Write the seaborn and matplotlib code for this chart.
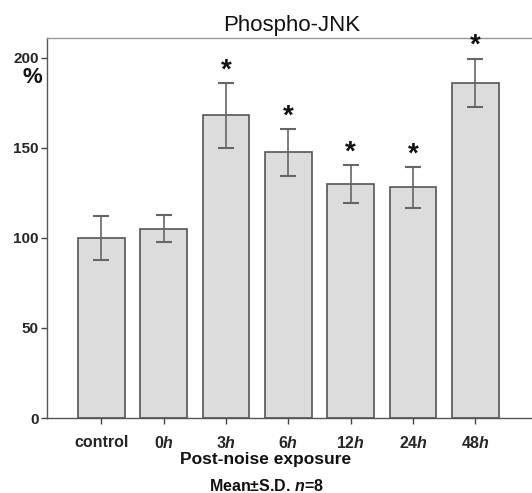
import matplotlib
matplotlib.use("Agg")
import matplotlib.pyplot as plt
import seaborn as sns
import pandas as pd

categories = ["control", "0h", "3h", "6h", "12h", "24h", "48h"]
tick_labels = ["control", "0$h$", "3$h$", "6$h$", "12$h$", "24$h$", "48$h$"]
means = [100, 105, 168, 147.5, 130, 128, 186]
sds = [12, 7.5, 18, 13, 10.5, 11.5, 13.5]
significant = [False, False, True, True, True, True, True]

sns.set_theme(style="white")
plt.rcParams["font.family"] = ["Liberation Sans", "DejaVu Sans"]
plt.rcParams["mathtext.fontset"] = "custom"
plt.rcParams["mathtext.rm"] = "Liberation Sans:bold"
plt.rcParams["mathtext.it"] = "Liberation Sans:italic:bold"

df = pd.DataFrame({"group": categories, "value": means})

fig = plt.figure(figsize=(5.32, 4.93), dpi=100)
ax = fig.add_axes([0.0883, 0.152, 0.92, 0.771])

sns.barplot(data=df, x="group", y="value", order=categories, color="#dcdcdc",
            edgecolor="#555555", linewidth=1.2, width=0.75, errorbar=None,
            saturation=1, ax=ax)
ax.errorbar(range(len(categories)), means, yerr=sds, fmt="none",
            ecolor="#666666", elinewidth=1.2, capsize=6, capthick=1.5)

for i, (m, s, sig) in enumerate(zip(means, sds, significant)):
    if sig:
        ax.text(i, m + s + 7, "*", ha="center", va="center", fontsize=20,
                fontweight="bold", color="#111111", clip_on=False)

ax.set_xlim(-0.87, 6.98)
ax.set_ylim(0, 211)
ax.set_yticks([0, 50, 100, 150, 200])
ax.set_yticklabels(["0", "50", "100", "150", "200"], fontsize=11,
                   fontweight="bold")
ax.set_xticks(range(len(categories)))
ax.set_xticklabels(tick_labels, fontsize=11.5, fontweight="bold")
ax.tick_params(axis="both", which="both", length=4, width=1, color="#444444",
               direction="out", bottom=True, left=True, pad=2)
ax.tick_params(axis="x", pad=8)
ax.set_xlabel("")
ax.set_ylabel("")

for side in ["left", "bottom", "top"]:
    ax.spines[side].set_visible(True)
    ax.spines[side].set_color("#555555")
    ax.spines[side].set_linewidth(1.0)
ax.spines["top"].set_color("#999999")
ax.spines["right"].set_visible(False)

ax.set_title("Phospho-JNK", fontsize=16, pad=5, color="#111111")
fig.text(0.06, 0.843, "%", fontsize=16, fontweight="bold", ha="center",
         va="center", color="#111111")
fig.text(0.5, 0.068, "Post-noise exposure", fontsize=12.5, fontweight="bold",
         ha="center", va="center", color="#111111")
fig.text(0.5, 0.015, "Mean\u00b1S.D. $\\mathit{n}$=8", fontsize=11.5,
         fontweight="bold", ha="center", va="center", color="#111111")

fig.savefig("out.png", dpi=100)
